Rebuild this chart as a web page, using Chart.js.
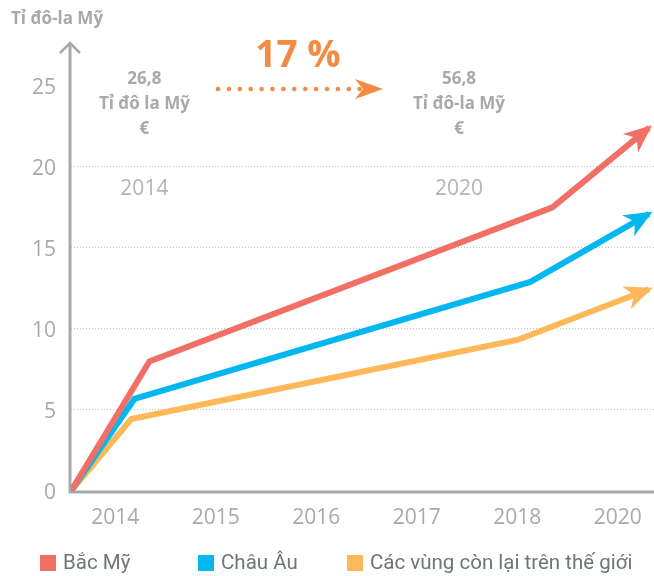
<!DOCTYPE html>
<html>
<head>
<meta charset="utf-8">
<script src="https://cdn.jsdelivr.net/npm/chart.js@4.4.1/dist/chart.umd.min.js"></script>
<style>
  body { margin: 0; background: #fff; }
</style>
</head>
<body>
<canvas id="myChart" width="654" height="576"></canvas>
<script>
// nhãn trục x và vạch trục y
const xLabels = ['2014', '2015', '2016', '2017', '2018', '2020'];
const yTicks = [0, 5, 10, 15, 20, 25];

// vị trí theo trục x (đơn vị = khoảng giữa 2 nhãn) và giá trị (tỉ USD)
const bacMyX = [-0.44, 0.34, 4.35, 5.31];
const bacMyY = [0, 8.0, 17.5, 22.4];
const chauAuX = [-0.44, 0.19, 4.13, 5.31];
const chauAuY = [0, 5.68, 12.9, 17.1];
const conLaiX = [-0.44, 0.16, 4.0, 5.31];
const conLaiY = [0, 4.44, 9.32, 12.45];

const seriesNames = ['Bắc Mỹ', 'Châu Âu', 'Các vùng còn lại trên thế giới'];
const seriesColors = ['#f26f66', '#00b7f0', '#fdb85a'];

const GRAY = '#a7a9ac';
const ORANGE = '#f58a43';

function toPoints (xs, ys) {
    return xs.map((x, i) => ({ x: x, y: ys[i] }));
}

const decorPlugin = {
    id: 'decor',
    beforeDatasetsDraw (chart) {
        const ctx = chart.ctx;
        const a = chart.chartArea;
        ctx.save();
        ctx.strokeStyle = GRAY;
        ctx.lineWidth = 3;
        // trục x
        ctx.beginPath();
        ctx.moveTo(a.left - 2, a.bottom + 1);
        ctx.lineTo(chart.width, a.bottom + 1);
        ctx.stroke();
        // trục y + mũi tên
        ctx.beginPath();
        ctx.moveTo(a.left - 1, a.bottom + 2);
        ctx.lineTo(a.left - 1, a.top + 1);
        ctx.stroke();
        ctx.lineWidth = 2.5;
        ctx.beginPath();
        ctx.moveTo(a.left - 11, a.top + 11);
        ctx.lineTo(a.left - 1, a.top + 1);
        ctx.lineTo(a.left + 9, a.top + 11);
        ctx.stroke();
        ctx.restore();
    },
    afterDatasetsDraw (chart) {
        const ctx = chart.ctx;
        chart.data.datasets.forEach((ds, i) => {
            const pts = chart.getDatasetMeta(i).data;
            const p1 = pts[pts.length - 2];
            const p2 = pts[pts.length - 1];
            const ang = Math.atan2(p2.y - p1.y, p2.x - p1.x);
            ctx.save();
            ctx.translate(p2.x, p2.y);
            ctx.rotate(ang);
            ctx.fillStyle = ds.borderColor;
            ctx.beginPath();
            ctx.moveTo(4, 0);
            ctx.lineTo(-24, -12);
            ctx.lineTo(-16, 0);
            ctx.lineTo(-24, 12);
            ctx.closePath();
            ctx.fill();
            ctx.restore();
        });
    },
    afterDraw (chart) {
        const ctx = chart.ctx;
        const xs = chart.scales.x;
        ctx.save();
        ctx.fillStyle = GRAY;
        ctx.textBaseline = 'middle';

        // tiêu đề trục y
        ctx.textAlign = 'left';
        ctx.font = 'bold 17px "Open Sans"';
        ctx.fillText('Tỉ đô-la Mỹ', 11, 19);

        // hai khối chú thích 2014 / 2020
        ctx.textAlign = 'center';
        const blocks = [
            { x: xs.getPixelForValue(0.29), lines: ['26,8', 'Tỉ đô la Mỹ', '€'], year: '2014' },
            { x: xs.getPixelForValue(3.42), lines: ['56,8', 'Tỉ đô-la Mỹ', '€'], year: '2020' }
        ];
        blocks.forEach(b => {
            ctx.font = 'bold 17px "Open Sans"';
            b.lines.forEach((t, k) => ctx.fillText(t, b.x, 79 + k * 25));
            ctx.font = '21px "Open Sans"';
            ctx.fillStyle = '#b1b3b6';
            ctx.fillText(b.year, b.x, 189);
            ctx.fillStyle = GRAY;
        });

        // 17 % và mũi tên chấm
        ctx.fillStyle = ORANGE;
        ctx.font = 'bold 37px "Open Sans"';
        ctx.fillText('17 %', 298, 56);
        for (let k = 0; k < 14; k++) {
            ctx.beginPath();
            ctx.arc(218 + k * 10.9, 89, 2.3, 0, Math.PI * 2);
            ctx.fill();
        }
        ctx.beginPath();
        ctx.moveTo(383, 89);
        ctx.lineTo(355, 79);
        ctx.lineTo(363, 89);
        ctx.lineTo(355, 99);
        ctx.closePath();
        ctx.fill();

        // chú giải
        const legendX = [40, 198, 347];
        ctx.textAlign = 'left';
        ctx.font = '20.5px Roboto';
        seriesNames.forEach((name, i) => {
            ctx.fillStyle = seriesColors[i];
            ctx.fillRect(legendX[i], 555, 16, 16);
            ctx.fillStyle = '#6e757b';
            ctx.fillText(name, legendX[i] + 23, 564);
        });
        ctx.restore();
    }
};

const ctx = document.getElementById('myChart').getContext('2d');
const chart = new Chart(ctx, {
    type: 'line',
    data: {
        datasets: [
            { label: seriesNames[0], data: toPoints(bacMyX, bacMyY) },
            { label: seriesNames[1], data: toPoints(chauAuX, chauAuY) },
            { label: seriesNames[2], data: toPoints(conLaiX, conLaiY) }
        ].map((ds, i) => Object.assign(ds, {
            borderColor: seriesColors[i],
            backgroundColor: seriesColors[i],
            borderWidth: 6,
            pointRadius: 0,
            tension: 0,
            borderJoinStyle: 'miter',
            borderCapStyle: 'butt'
        }))
    },
    options: {
        responsive: false,
        animation: false,
        layout: { padding: { top: 42, right: 0, bottom: 40, left: 0 } },
        plugins: {
            legend: { display: false },
            tooltip: { enabled: false }
        },
        scales: {
            x: {
                type: 'linear',
                min: -0.44,
                max: 5.36,
                afterBuildTicks: axis => { axis.ticks = xLabels.map((_, i) => ({ value: i })); },
                afterFit: scale => { scale.height = 45; },
                grid: { display: false },
                border: { display: false },
                ticks: {
                    padding: 6,
                    color: GRAY,
                    font: { family: 'Open Sans', size: 21 },
                    callback: v => xLabels[v]
                }
            },
            y: {
                min: 0,
                max: 27.7,
                afterBuildTicks: axis => { axis.ticks = yTicks.map(v => ({ value: v })); },
                afterFit: scale => { scale.width = 71; },
                grid: {
                    drawTicks: false,
                    lineWidth: 1,
                    color: c => (c.tick.value > 0 && c.tick.value < 25) ? '#c4c4c4' : 'rgba(0,0,0,0)'
                },
                border: { display: false, dash: [1, 2] },
                ticks: {
                    padding: 15,
                    labelOffset: 2,
                    color: GRAY,
                    font: { family: 'Open Sans', size: 21 }
                }
            }
        }
    },
    plugins: [decorPlugin]
});
</script>
</body>
</html>
